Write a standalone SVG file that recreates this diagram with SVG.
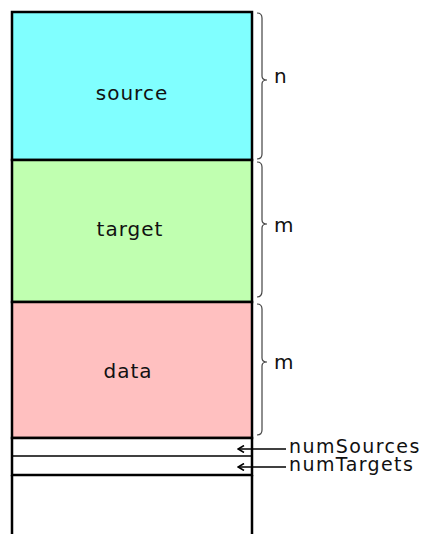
<svg xmlns="http://www.w3.org/2000/svg" width="425" height="534" viewBox="0 0 425 534">
  <style>
    .cell { stroke: #000; stroke-width: 2.5; }
    .thin { stroke: #000; stroke-width: 1.5; fill: none; }
    .lbl { font-family: "DejaVu Sans", "Verdana", sans-serif; font-size: 20px; letter-spacing: 1px; fill: #111; }
    .side { font-family: "DejaVu Sans", "Verdana", sans-serif; font-size: 19px; letter-spacing: 1.4px; fill: #111; }
    .brace { fill: none; stroke: #444; stroke-width: 1.2; }
    .conn { stroke: #000; stroke-width: 1.3; fill: none; }
  </style>
  <defs>
    <marker id="head" viewBox="0 0 8 8" refX="7" refY="4" markerWidth="8" markerHeight="8" markerUnits="userSpaceOnUse" orient="auto">
      <path d="M1,0.5 L7,4 L1,7.5" fill="none" stroke="#000" stroke-width="1.6"/>
    </marker>
  </defs>
  <rect width="425" height="534" fill="#fff"/>

  <g id="source">
    <rect class="cell" x="12" y="12" width="240" height="148" fill="#80ffff"/>
    <text class="lbl" x="132" y="100" text-anchor="middle">source</text>
  </g>
  <g id="target">
    <rect class="cell" x="12" y="160" width="240" height="142" fill="#c0ffb0"/>
    <text class="lbl" x="130" y="236" text-anchor="middle">target</text>
  </g>
  <g id="data">
    <rect class="cell" x="12" y="302" width="240" height="136" fill="#ffc0c0"/>
    <text class="lbl" x="128" y="378" text-anchor="middle">data</text>
  </g>
  <g id="counts">
    <rect class="cell" x="12" y="438" width="240" height="37" fill="#fff"/>
    <line class="thin" x1="12" y1="456" x2="252" y2="456"/>
  </g>
  <g id="rest">
    <path class="cell" d="M12,475 V540 M252,475 V540" fill="none"/>
  </g>

  <!-- size braces -->
  <g id="brace-n">
    <path class="brace" d="M257,13 Q262,13 262,18 V76 Q262,80 267,80 Q262,80 262,84 V154 Q262,159 257,159"/>
    <text class="lbl" x="274" y="83">n</text>
  </g>
  <g id="brace-m1">
    <path class="brace" d="M257,162 Q262,162 262,167 V220 Q262,224 267,224 Q262,224 262,228 V291 Q262,297 257,297"/>
    <text class="lbl" x="274" y="232">m</text>
  </g>
  <g id="brace-m2">
    <path class="brace" d="M257,304 Q262,304 262,309 V358 Q262,362 267,362 Q262,362 262,366 V430 Q262,435 257,435"/>
    <text class="lbl" x="274" y="369">m</text>
  </g>

  <g id="connectors">
    <line class="conn" x1="286" y1="449" x2="238" y2="449" marker-end="url(#head)"/>
    <line class="conn" x1="286" y1="467" x2="238" y2="467" marker-end="url(#head)"/>
  </g>
  <g id="labels">
    <text class="side" x="289" y="453">numSources</text>
    <text class="side" x="289" y="471">numTargets</text>
  </g>
</svg>
